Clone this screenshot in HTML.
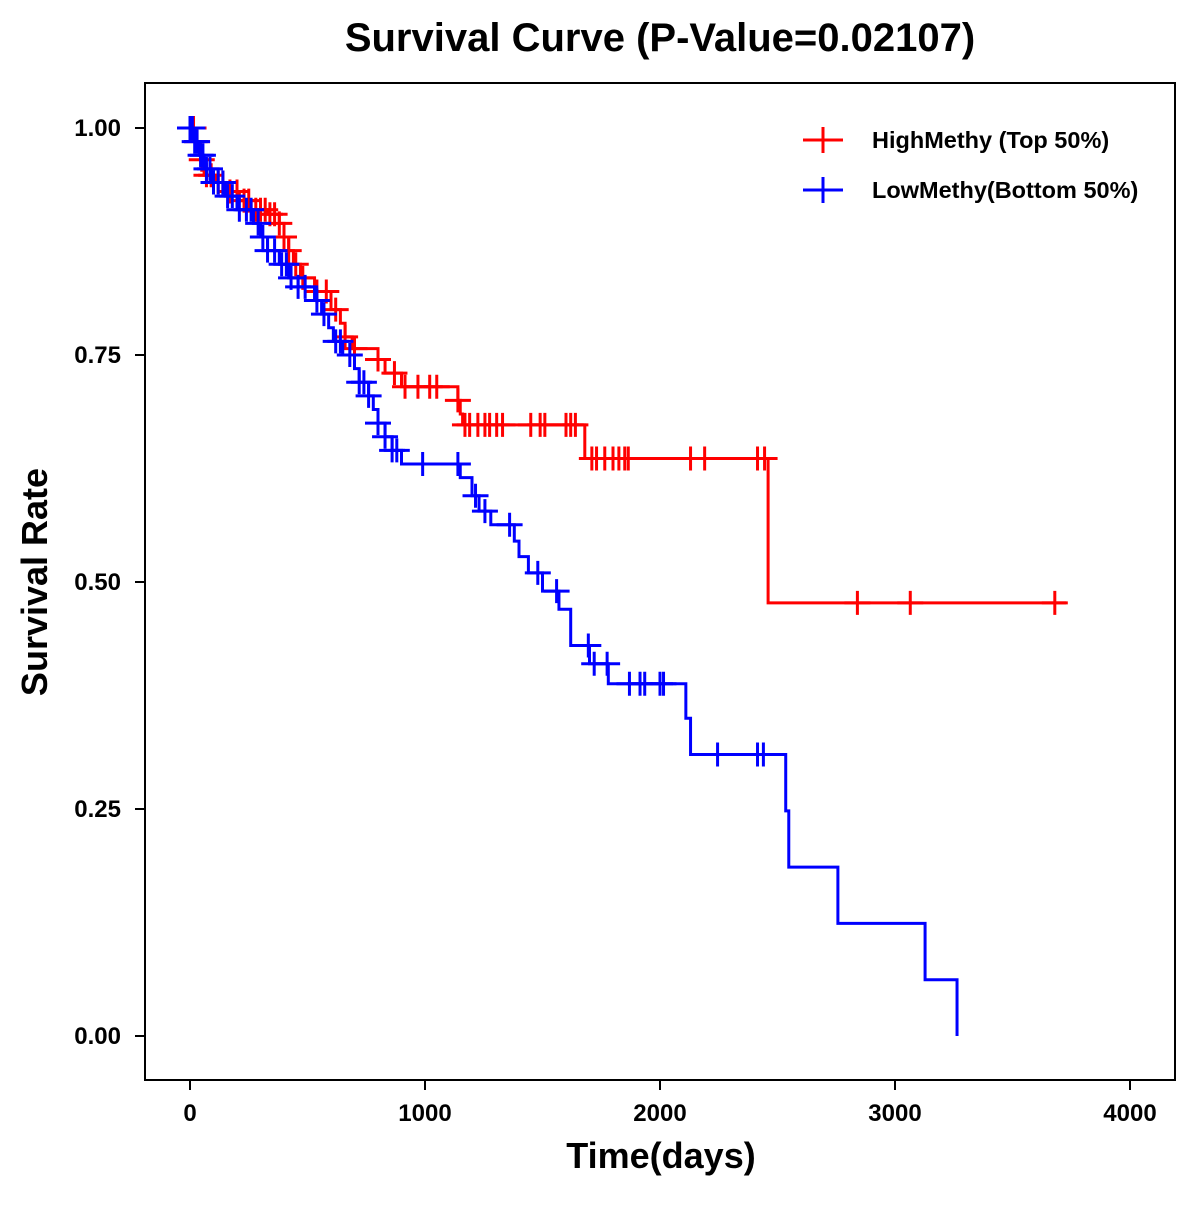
<!DOCTYPE html>
<html><head><meta charset="utf-8"><style>
html,body{margin:0;padding:0;background:#fff;}
svg text{font-family:"Liberation Sans",Arial,sans-serif;font-weight:bold;fill:#000;}
</style></head><body>
<svg id="chart" width="1200" height="1200" viewBox="0 0 1200 1200" xmlns="http://www.w3.org/2000/svg">
<rect x="0" y="0" width="1200" height="1200" fill="#fff"/>
<text x="660" y="51" font-size="40" text-anchor="middle">Survival Curve (P-Value=0.02107)</text>
<rect x="145" y="83" width="1030" height="997" fill="none" stroke="#000" stroke-width="2"/>
<g id="axes"></g>
<g id="series"></g>
<text x="661" y="1168" font-size="36" text-anchor="middle">Time(days)</text>
<text transform="translate(47,582) rotate(-90)" font-size="36" text-anchor="middle">Survival Rate</text>
<g>
<g>
<line x1="803" y1="140" x2="843" y2="140" stroke="#f00" stroke-width="3"/>
<line x1="823" y1="127" x2="823" y2="153" stroke="#f00" stroke-width="3"/>
<text x="872" y="148" font-size="23.5">HighMethy (Top 50%)</text>
</g>
<g>
<line x1="803" y1="190" x2="843" y2="190" stroke="#00f" stroke-width="3"/>
<line x1="823" y1="177" x2="823" y2="203" stroke="#00f" stroke-width="3"/>
<text x="872" y="198" font-size="23.5">LowMethy(Bottom 50%)</text>
</g>
</g>
</svg>
<script>
const xTicks = [0, 1000, 2000, 3000, 4000];
const yTicks = [0, 0.25, 0.5, 0.75, 1.0];
const yTickLabels = ["0.00", "0.25", "0.50", "0.75", "1.00"];

const highTimes = [0,25,45,60,110,160,210,260,330,380,400,420,440,470,530,600,640,660,690,800,830,900,1140,1150,1160,1680,2460];
const highSurv  = [1.0,0.985,0.965,0.948,0.94,0.93,0.92,0.91,0.905,0.895,0.88,0.865,0.85,0.835,0.82,0.80,0.785,0.77,0.757,0.745,0.73,0.715,0.70,0.685,0.673,0.636,0.477];
const highEnd = 3728;
const highCensor = [5,15,30,50,70,90,120,140,170,200,230,250,280,300,320,340,360,380,400,420,450,480,540,580,620,660,700,800,870,915,970,1020,1050,1140,1170,1190,1225,1255,1275,1305,1330,1450,1490,1510,1600,1620,1640,1710,1730,1765,1800,1825,1850,1865,2130,2190,2415,2445,2840,3065,3680];

const lowTimes = [0,20,40,60,90,150,200,270,300,330,380,420,460,530,560,590,610,650,700,720,760,780,800,830,860,900,1150,1200,1230,1280,1380,1400,1440,1500,1570,1620,1700,1780,2110,2130,2535,2548,2757,3128,3264];
const lowSurv  = [1.0,0.985,0.97,0.955,0.94,0.925,0.91,0.895,0.88,0.865,0.85,0.835,0.825,0.81,0.795,0.78,0.765,0.75,0.735,0.72,0.705,0.69,0.675,0.66,0.645,0.63,0.615,0.595,0.578,0.563,0.545,0.528,0.51,0.49,0.47,0.43,0.41,0.388,0.35,0.31,0.248,0.186,0.124,0.062,0.0];
const lowEnd = 3264;
const lowCensor = [0,10,20,30,45,55,70,85,100,120,140,160,180,210,240,260,290,310,330,360,390,410,430,460,490,540,570,620,640,680,720,740,760,800,830,860,880,990,1140,1215,1255,1360,1480,1560,1695,1720,1775,1870,1915,1935,2000,2015,2245,2415,2440];

const NS = "http://www.w3.org/2000/svg";
const xs = d => 190 + d * 0.235;
const ys = v => 1036 - v * 908;

function mk(tag, attrs, parent) {
  const e = document.createElementNS(NS, tag);
  for (const k in attrs) e.setAttribute(k, attrs[k]);
  parent.appendChild(e);
  return e;
}
const axes = document.getElementById('axes');
xTicks.forEach(t => {
  const l = mk('line', {x1: xs(t), x2: xs(t), y1: 1080, y2: 1090, stroke: '#000', 'stroke-width': 2}, axes);
  
  
  const tx = mk('text', {x: xs(t), y: 1121, 'font-size': 24, 'text-anchor': 'middle'}, axes);
  tx.textContent = String(t);
  
  
});
yTicks.forEach((t, i) => {
  const l = mk('line', {x1: 135, x2: 145, y1: ys(t), y2: ys(t), stroke: '#000', 'stroke-width': 2}, axes);
  
  
  const tx = mk('text', {x: 121, y: ys(t) + 8, 'font-size': 24, 'text-anchor': 'end'}, axes);
  tx.textContent = yTickLabels[i];
  
  
});

function survAt(times, surv, t) {
  let s = surv[0];
  for (let i = 0; i < times.length; i++) if (times[i] <= t) s = surv[i];
  return s;
}
function drawSeries(times, surv, end, censor, color, name) {
  const g = mk('g', {}, document.getElementById('series'));
  
  
  let d = 'M' + xs(times[0]) + ',' + ys(surv[0]);
  for (let i = 1; i < times.length; i++) {
    d += ' H' + xs(times[i]) + ' V' + ys(surv[i]);
  }
  d += ' H' + xs(end);
  const p = mk('path', {d: d, fill: 'none', stroke: color, 'stroke-width': 3}, g);
  
  
  censor.forEach(c => {
    const cx = xs(c), cy = ys(survAt(times, surv, c));
    const m = mk('path', {d: 'M' + (cx - 13) + ',' + cy + ' H' + (cx + 13) + ' M' + cx + ',' + (cy - 12) + ' V' + (cy + 12), stroke: color, 'stroke-width': 3, fill: 'none'}, g);
    
    
  });
}
drawSeries(highTimes, highSurv, highEnd, highCensor, '#ff0000', 'high-methy');
drawSeries(lowTimes, lowSurv, lowEnd, lowCensor, '#0000ff', 'low-methy');
</script>
</body></html>
